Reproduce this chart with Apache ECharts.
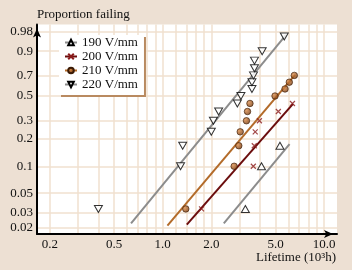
<!DOCTYPE html>
<html>
<head>
<meta charset="utf-8">
<script src="https://cdn.jsdelivr.net/npm/echarts@6/dist/echarts.min.js"></script>
<style>
html, body { margin: 0; padding: 0; background: #EDE0D3; }
#chart { width: 352px; height: 270px; }
</style>
</head>
<body>
<div id="chart"></div>
<script>
var seriesNames = ['190 V/mm', '200 V/mm', '210 V/mm', '220 V/mm'];

// lifetime (10^3 h) and proportion failing, per field strength
var life190 = [3.25, 4.09, 5.32];
var prob190 = [0.033, 0.1, 0.167];
var life200 = [1.74, 3.64, 3.69, 3.74, 3.97, 5.20, 6.36];
var prob200 = [0.033, 0.1, 0.167, 0.233, 0.3, 0.367, 0.433];
var life210 = [1.39, 2.77, 2.96, 3.02, 3.30, 3.35, 3.47, 4.96, 5.72, 6.08, 6.53];
var prob210 = [0.033, 0.1, 0.167, 0.233, 0.3, 0.367, 0.433, 0.5, 0.567, 0.633, 0.7];
var life220 = [0.40, 1.29, 1.33, 2.00, 2.06, 2.22, 2.90, 3.05, 3.57, 3.57, 3.65, 3.70, 3.70, 4.13, 5.66];
var prob220 = [0.033, 0.1, 0.167, 0.233, 0.3, 0.367, 0.433, 0.5, 0.567, 0.633, 0.7, 0.767, 0.833, 0.9, 0.967];

// fitted lines: [lifetime, proportion] at both ends
var fit190 = [[2.39, 0.0225], [6.10, 0.174]];
var fit200 = [[1.41, 0.0218], [6.41, 0.429]];
var fit210 = [[1.07, 0.0212], [6.59, 0.705]];
var fit220 = [[0.637, 0.0225], [5.80, 0.972]];

var xGridValues = [0.2, 0.3, 0.4, 0.5, 0.6, 0.7, 0.8, 0.9, 1, 1.2, 1.4, 1.6, 1.8, 2, 3, 4, 5, 6, 7, 8, 9, 10];
var xLabelValues = [0.2, 0.5, 1, 2, 5, 10];
var yTickValues = [0.02, 0.03, 0.05, 0.1, 0.2, 0.3, 0.5, 0.7, 0.9, 0.98];
var xRange = [1 / 6, 12];
var yRange = [0.017, 0.991];

var font = "'Liberation Serif', 'DejaVu Serif', serif";

// log lifetime, weibull probability
function lx(v) { return Math.log10(v); }
function wb(p) { return Math.log(-Math.log(1 - p)); }

function pts(life, prob) {
    return life.map(function(v, i) { return [lx(v), wb(prob[i])]; });
}
function fitPts(f) {
    return f.map(function(p) { return [lx(p[0]), wb(p[1])]; });
}
function yLabel(val) {
    var best = 0;
    for (var i = 1; i < yTickValues.length; i++) {
        if (Math.abs(wb(yTickValues[i]) - val) < Math.abs(wb(yTickValues[best]) - val)) best = i;
    }
    return String(yTickValues[best]);
}

var gridLine = { show: true, lineStyle: { color: '#F0E0CF', width: 1.5 } };
var axisLineStyle = { color: '#000', width: 2 };

var markTri = { symbol: 'triangle', symbolSize: [8, 7], itemStyle: { color: '#fff', borderColor: '#000', borderWidth: 1 } };
var markCross = { symbol: 'path://M0,0L10,10M10,0L0,10', symbolSize: 5, itemStyle: { color: '#8B1A1A', borderColor: '#8B1A1A', borderWidth: 1.2 } };
var markBall = {
    symbol: 'circle', symbolSize: 6.5,
    itemStyle: {
        color: { type: 'radial', x: 0.35, y: 0.35, r: 0.75, colorStops: [
            { offset: 0, color: '#D98A48' }, { offset: 1, color: '#6E3208' }] },
        borderColor: '#3A1A05', borderWidth: 0.8
    }
};

// fit line carries the legend entry, the scatter carries the points
function fitSeries(name, f, color, mark, rotate) {
    return {
        name: name, type: 'line', data: fitPts(f), showSymbol: false, silent: true, z: 2,
        symbol: mark.symbol, symbolSize: mark.symbolSize, symbolRotate: rotate || 0,
        itemStyle: mark.itemStyle,
        lineStyle: { color: color, width: 2 }
    };
}
function pointSeries(name, life, prob, mark, rotate) {
    return {
        name: name, type: 'scatter', data: pts(life, prob), z: 5,
        symbol: mark.symbol, symbolSize: mark.symbolSize, symbolRotate: rotate || 0,
        itemStyle: mark.itemStyle
    };
}

var chart = echarts.init(document.getElementById('chart'));
chart.setOption({
    animation: false,
    backgroundColor: '#EDE0D3',
    title: [{
        text: 'Proportion failing',
        left: 37, top: 8, padding: 0,
        textStyle: { fontFamily: font, fontSize: 13, fontWeight: 'normal', color: '#111' }
    }, {
        text: 'Lifetime (10³h)',
        right: 16, top: 251, padding: 0,
        textStyle: { fontFamily: font, fontSize: 13, fontWeight: 'normal', color: '#111' }
    }],
    grid: {
        left: 37, right: 15, top: 24.5, bottom: 36,
        show: true, backgroundColor: '#fff', borderWidth: 0
    },
    legend: {
        orient: 'vertical',
        left: 59, top: 35,
        backgroundColor: '#fff',
        shadowColor: '#B98A60', shadowOffsetX: 2, shadowOffsetY: 2, shadowBlur: 0,
        padding: [1, 6, 4, 5],
        itemGap: 1, itemWidth: 12, itemHeight: 7,
        textStyle: { fontFamily: font, fontSize: 13, color: '#111' },
        data: seriesNames
    },
    xAxis: {
        type: 'value',
        min: lx(xRange[0]), max: lx(xRange[1]),
        axisLine: { onZero: false, symbol: ['none', 'arrow'], symbolSize: [6, 9], symbolOffset: [0, -4], lineStyle: axisLineStyle },
        axisTick: { show: false, customValues: xGridValues.map(lx) },
        axisLabel: {
            customValues: xLabelValues.map(lx),
            formatter: function(v) { return Math.pow(10, v).toFixed(1); },
            fontFamily: font, fontSize: 13, color: '#111', margin: 4
        },
        splitLine: gridLine
    },
    yAxis: {
        type: 'value',
        min: wb(yRange[0]), max: wb(yRange[1]),
        axisLine: { onZero: false, symbol: ['none', 'arrow'], symbolSize: [6, 9], symbolOffset: [0, -4], lineStyle: axisLineStyle },
        axisTick: { show: false, customValues: yTickValues.map(wb) },
        axisLabel: {
            customValues: yTickValues.map(wb),
            formatter: yLabel,
            fontFamily: font, fontSize: 13, color: '#111', margin: 4
        },
        splitLine: gridLine
    },
    series: [
        fitSeries(seriesNames[0], fit190, '#8C8C8C', markTri),
        fitSeries(seriesNames[1], fit200, '#6B0D0D', markCross),
        fitSeries(seriesNames[2], fit210, '#B36B2A', markBall),
        fitSeries(seriesNames[3], fit220, '#8C8C8C', markTri, 180),
        pointSeries('190 points', life190, prob190, markTri),
        pointSeries('200 points', life200, prob200, markCross),
        pointSeries('210 points', life210, prob210, markBall),
        pointSeries('220 points', life220, prob220, markTri, 180)
    ]
});
</script>
</body>
</html>
